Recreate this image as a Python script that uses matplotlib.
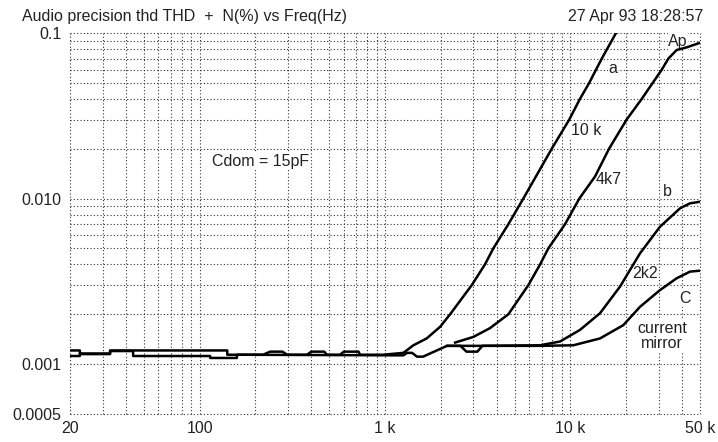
import numpy as np
import matplotlib.pyplot as plt
from matplotlib.ticker import FixedLocator, NullFormatter

plt.rcParams['font.family'] = ['Liberation Sans', 'DejaVu Sans']

# curve "a" / 10 k
a_freq = [20, 22.6, 22.6, 32.9, 32.9, 141, 141, 220, 240, 280, 296, 380, 400, 470, 486,
          572, 600, 720, 733, 976, 1256, 1422, 1678, 1982, 2244, 2936, 3460, 3838,
          4626, 5572, 7930, 9860, 11260, 12640, 13740, 14760, 17620, 18300]
a_thd = [0.00121, 0.00121, 0.00116, 0.00116, 0.00121, 0.00121, 0.00114, 0.00114, 0.00119,
         0.00119, 0.00114, 0.00114, 0.00119, 0.00119, 0.00114, 0.00114, 0.00119, 0.00119,
         0.00114, 0.00114, 0.00117, 0.0013, 0.00143, 0.00168, 0.002, 0.003, 0.004, 0.005,
         0.007, 0.01, 0.02, 0.03, 0.04, 0.05, 0.06, 0.07, 0.1, 0.11]

# curve 4k7 / Ap
k47_freq = [2388, 2994, 3682, 4626, 5930, 6860, 7600, 9354, 11170, 13580, 16160, 20100,
            24260, 27800, 31090, 33740, 37400, 42400, 50000]
k47_thd = [0.00135, 0.00146, 0.00165, 0.002, 0.003, 0.004, 0.005, 0.007, 0.01, 0.0136,
           0.02, 0.03, 0.04, 0.05, 0.06, 0.07, 0.0789, 0.0819, 0.0873]

# curve 2k2 / b
b_freq = [20, 22.6, 22.6, 32.9, 32.9, 43.8, 43.8, 114, 114, 159, 159, 1256, 1314, 1400,
          1488, 1604, 2160, 2550, 2750, 3150, 3350, 6860, 8790, 11260, 14440, 18520,
          23740, 30420, 39000, 44160, 50000]
b_thd = [0.00112, 0.00112, 0.00115, 0.00115, 0.0012, 0.0012, 0.00112, 0.00112, 0.00109,
         0.00109, 0.00114, 0.00113, 0.00117, 0.00117, 0.00111, 0.00111, 0.00129, 0.00129,
         0.00119, 0.00119, 0.00129, 0.0013, 0.00137, 0.00161, 0.00203, 0.00294, 0.00467,
         0.00676, 0.00873, 0.00936, 0.00957]

# curve C / current mirror
c_freq = [2160, 6860, 10370, 14440, 19290, 23740, 30420, 37400, 44160, 50000]
c_thd = [0.00129, 0.00129, 0.0013, 0.00143, 0.00172, 0.00222, 0.0028, 0.0033, 0.00362, 0.00367]

x_major = [20, 100, 1000, 10000, 50000]
x_labels = ['20', '100', '1 k', '10 k', '50 k']
x_minor = [30, 40, 50, 60, 70, 80, 90, 200, 300, 400, 500, 600, 700, 800, 900,
           2000, 3000, 4000, 5000, 6000, 7000, 8000, 9000, 20000, 30000, 40000]
y_major = [0.0005, 0.001, 0.01, 0.1]
y_labels = ['0.0005', '0.001', '0.010', '0.1']
y_minor = [0.002, 0.003, 0.004, 0.005, 0.006, 0.007, 0.008, 0.009,
           0.02, 0.03, 0.04, 0.05, 0.06, 0.07, 0.08, 0.09]

# (text, freq, thd) label positions
labels = [('a', 16980, 0.0614), ('10 k', 12140, 0.0256), ('4k7', 16160, 0.0131),
          ('Ap', 38040, 0.0888), ('b', 33200, 0.0111), ('2k2', 25240, 0.00353),
          ('C', 41520, 0.00249), ('current', 31200, 0.00165), ('mirror', 31200, 0.00133),
          ('Cdom = 15pF', 212, 0.01674)]


def plot_chart():
    fig = plt.figure(figsize=(7.18, 4.42), dpi=100)
    ax = fig.add_axes([70 / 718, 28 / 442, 630 / 718, 381 / 442])
    ax.set_xscale('log')
    ax.set_yscale('log')
    ax.set_xlim(20, 50000)
    ax.set_ylim(0.0005, 0.1)

    for fr, th in [(a_freq, a_thd), (k47_freq, k47_thd), (b_freq, b_thd), (c_freq, c_thd)]:
        ax.plot(fr, th, color='black', lw=1.8, solid_joinstyle='round', zorder=3)

    ax.xaxis.set_major_locator(FixedLocator(x_major))
    ax.xaxis.set_minor_locator(FixedLocator(x_minor))
    ax.set_xticklabels(x_labels)
    ax.xaxis.set_minor_formatter(NullFormatter())
    ax.yaxis.set_major_locator(FixedLocator(y_major))
    ax.yaxis.set_minor_locator(FixedLocator(y_minor))
    ax.set_yticklabels(y_labels)
    ax.yaxis.set_minor_formatter(NullFormatter())
    ax.tick_params(which='both', length=0, labelsize=11.5, colors='#222222')
    ax.tick_params(axis='x', pad=5)
    ax.tick_params(axis='y', pad=6)

    ax.grid(True, which='both', color='#333333', lw=0.8, linestyle=(0, (1, 2)))
    for t in ax.xaxis.get_major_ticks() + ax.yaxis.get_major_ticks() + \
            ax.xaxis.get_minor_ticks() + ax.yaxis.get_minor_ticks():
        t.gridline.set_clip_on(False)
    for s in ax.spines.values():
        s.set_visible(False)

    # labels hide the grid behind them but sit under the curves
    for txt, fx, fy in labels:
        ax.text(fx, fy, txt, fontsize=11.5, ha='center', va='center', color='#222222',
                bbox=dict(facecolor='white', edgecolor='none', pad=0.5), zorder=2.5)

    fig.text(22 / 718, 1 - 16 / 442, 'Audio precision thd THD  +  N(%) vs Freq(Hz)',
             fontsize=11.5, ha='left', va='center', color='#222222')
    fig.text(703 / 718, 1 - 16 / 442, '27 Apr 93 18:28:57',
             fontsize=11.5, ha='right', va='center', color='#222222')
    fig.savefig('out.png', dpi=100)


plot_chart()
